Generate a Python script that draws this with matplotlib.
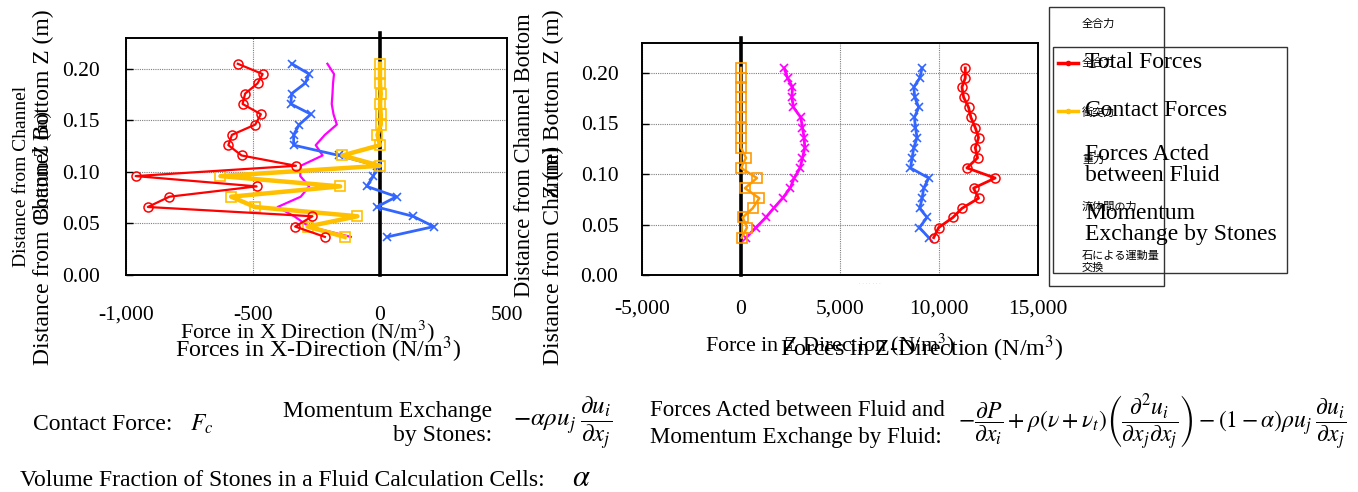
import matplotlib
matplotlib.use("Agg")
import matplotlib.pyplot as plt
from matplotlib.lines import Line2D
from matplotlib.patches import Rectangle

plt.rcParams['font.family'] = ['Liberation Serif', 'DejaVu Serif']
plt.rcParams['mathtext.fontset'] = 'stix'

# ---------------- data ----------------
heights = [0.205, 0.195, 0.186, 0.176, 0.166, 0.156, 0.146, 0.136, 0.126,
           0.116, 0.106, 0.096, 0.086, 0.076, 0.066, 0.057, 0.047, 0.037]

# X direction (N/m3)
x_total = [-560, -462, -482, -531, -541, -469, -491, -583, -597,
           -545, -331, -962, -486, -829, -914, -266, -334, -217]
x_contact = [0, 0, 0, 3, 0, 3, 3, -10, 0,
             -148, 0, -628, -157, -586, -492, -89, -285, -139]
x_fluid = [-207, -181, -185, -187, -190, -183, -170, -217, -253,
           -226, -312, -314, -279, -312, -403, -338, -279, -115]
x_stones = [-347, -279, -295, -348, -351, -272, -318, -340, -340,
            -161, -10, -26, -52, 65, -13, 130, 212, 29]

# Z direction (N/m3)
z_total = [11327, 11327, 11159, 11243, 11494, 11612, 11830, 11998, 11830,
           11948, 11410, 12837, 11746, 11998, 11159, 10706, 9984, 9732]
z_stones = [9145, 9028, 8726, 8776, 8977, 8759, 8810, 8893, 8726,
            8642, 8558, 9481, 9229, 9145, 9028, 9397, 9011, 9481]
z_fluid = [2181, 2349, 2601, 2567, 2651, 3020, 3104, 3188, 3222,
           3104, 2987, 2685, 2483, 2097, 1644, 1258, 755, 252]
z_contact = [0, 0, 0, 0, 0, 0, 0, 0, 0,
             252, 0, 805, 201, 923, 587, 84, 302, 34]

x_ticks_left = [-1000, -500, 0, 500]
x_ticklabels_left = ['-1,000', '-500', '0', '500']
x_ticks_right = [-5000, 0, 5000, 10000, 15000]
x_ticklabels_right = ['-5,000', '0', '5,000', '10,000', '15,000']
y_ticks = [0.00, 0.05, 0.10, 0.15, 0.20]
y_ticklabels = ['0.00', '0.05', '0.10', '0.15', '0.20']

legend_en = ['Total Forces', 'Contact Forces', 'Forces Acted\nbetween Fluid',
             'Momentum\nExchange by Stones']
legend_jp = ['全合力', '衝突力', '重力', '流体間の力', '石による運動量\n交換']

RED = '#FF0000'
BLUE = '#3366FF'
MAG = '#FF00FF'
GOLD = '#FFC000'
ORANGE = '#FF9900'

W, H = 1358, 492
fig = plt.figure(figsize=(W / 100, H / 100), dpi=100)


def fx(px):
    return px / W


def fy(py):
    return 1 - py / H


def style_axes(ax, xticks, xlabels, xlim, ypad, xpad):
    ax.set_xlim(*xlim)
    ax.set_ylim(0, 0.23)
    ax.set_xticks(xticks)
    ax.set_xticklabels(xlabels)
    ax.set_yticks(y_ticks)
    ax.set_yticklabels(y_ticklabels)
    ax.grid(True, linestyle=(0, (1, 1)), color='#7f7f7f', linewidth=0.8)
    ax.set_axisbelow(True)
    ax.tick_params(axis='y', direction='in', length=5, width=1, labelsize=15.5, pad=ypad)
    ax.tick_params(axis='x', direction='in', length=0, width=1, labelsize=15.5, pad=xpad)
    for s in ax.spines.values():
        s.set_linewidth(1.4)
        s.set_color('black')
    ax.axvline(0, ymin=0, ymax=1.02, color='black', linewidth=2.6, clip_on=False, zorder=1.5)


# ---------------- left axes ----------------
axL = fig.add_axes([fx(126), fy(275), fx(507 - 126), (275 - 38) / H])
axL.plot(x_fluid, heights, color=MAG, linewidth=1.6, zorder=3)
axL.plot(x_stones, heights, color=BLUE, linewidth=2.0, marker='x', markersize=6,
         markeredgewidth=1.2, zorder=3)
axL.plot(x_contact, heights, color=GOLD, linewidth=3.2, marker='s', markersize=7,
         markerfacecolor='none', markeredgewidth=1.2, zorder=4)
axL.plot(x_total, heights, color=RED, linewidth=1.6, marker='o', markersize=6.5,
         markerfacecolor='none', markeredgewidth=1.1, zorder=5)
style_axes(axL, x_ticks_left, x_ticklabels_left, (-1000, 500), 19, 22)

# ---------------- right axes ----------------
axR = fig.add_axes([fx(642), fy(275), fx(1038 - 642), (275 - 42.7) / H])
axR.plot(z_contact, heights, color=ORANGE, linewidth=1.8, marker='s', markersize=7,
         markerfacecolor='none', markeredgewidth=1.2, zorder=4)
axR.plot(z_fluid, heights, color=MAG, linewidth=2.0, marker='x', markersize=6,
         markeredgewidth=1.2, zorder=3)
axR.plot(z_stones, heights, color=BLUE, linewidth=2.0, marker='x', markersize=6,
         markeredgewidth=1.2, zorder=3)
axR.plot(z_total, heights, color=RED, linewidth=2.0, marker='o', markersize=6.5,
         markerfacecolor='none', markeredgewidth=1.1, zorder=5)
style_axes(axR, x_ticks_right, x_ticklabels_right, (-5000, 15000), 17, 18)

# ---------------- axis titles (overlapping, as in reference) ----------------
fig.text(fx(22), fy(176), 'Distance from Channel', rotation=90, fontsize=14,
         ha='center', va='center')
fig.text(fx(43), fy(165), 'Bottom Z (m)', rotation=90, fontsize=14,
         ha='center', va='center')
fig.text(fx(43), fy(187), 'Distance from Channel Bottom Z (m)', rotation=90,
         fontsize=17, ha='center', va='center')

fig.text(fx(525), fy(155), 'Distance from Channel Bottom', rotation=90, fontsize=16.3,
         ha='center', va='center')
fig.text(fx(553), fy(172), 'Z (m)', rotation=90, fontsize=16.3,
         ha='center', va='center')
fig.text(fx(553), fy(187), 'Distance from Channel Bottom Z (m)', rotation=90,
         fontsize=17, ha='center', va='center')

fig.text(fx(307), fy(332), r'Force in X Direction (N/m$^3$)', fontsize=16,
         ha='center', va='center')
fig.text(fx(318), fy(350), r'Forces in X-Direction (N/m$^3$)', fontsize=17.3,
         ha='center', va='center')
fig.text(fx(830), fy(345), r'Force in Z Direction (N/m$^3$)', fontsize=15.8,
         ha='center', va='center')
fig.text(fx(922), fy(349), r'Forces in Z-Direction (N/m$^3$)', fontsize=17.3,
         ha='center', va='center')

fig.text(fx(870), fy(284), '·  ·  ·  ·  ·  ·  ·', fontsize=3, color='#888888',
         ha='center', va='center')

# ---------------- legend boxes ----------------
fig.add_artist(Rectangle((fx(1049), fy(286)), fx(1164 - 1049), (286 - 7) / H,
                         transform=fig.transFigure, fill=False, edgecolor='#333333',
                         linewidth=1.0))
fig.add_artist(Rectangle((fx(1053), fy(273)), fx(1287 - 1053), (273 - 47) / H,
                         transform=fig.transFigure, fill=False, edgecolor='#333333',
                         linewidth=1.0))

jp_font = ['Noto Sans CJK JP', 'DejaVu Sans']
fig.text(fx(1082), fy(24), legend_jp[0], fontsize=8, family=jp_font, ha='left', va='center')
jp_y = [63, 112, 160, 207, 262]
for lbl, yy in zip(legend_jp, jp_y):
    fig.text(fx(1082), fy(yy), lbl, fontsize=8, family=jp_font, ha='left', va='center',
             linespacing=1.3)

en_y = [63, 111, 165, 224]
for lbl, yy in zip(legend_en, en_y):
    fig.text(fx(1085), fy(yy), lbl, fontsize=17, ha='left', va='center', linespacing=1.05)

for col, yy in ((RED, 63), (GOLD, 111)):
    fig.add_artist(Line2D([fx(1058), fx(1078)], [fy(yy), fy(yy)], color=col,
                          linewidth=2.5, transform=fig.transFigure))
    fig.add_artist(Line2D([fx(1068)], [fy(yy)], color=col, marker='o', markersize=3,
                          transform=fig.transFigure))

# ---------------- equations ----------------
fig.text(fx(33), fy(424), 'Contact Force:', fontsize=17, ha='left', va='center')
fig.text(fx(190), fy(424), r'$F_c$', fontsize=17, ha='left', va='center')
fig.text(fx(492), fy(411), 'Momentum Exchange', fontsize=17, ha='right', va='center')
fig.text(fx(492), fy(436), 'by Stones:', fontsize=17, ha='right', va='center')
fig.text(fx(513), fy(423), r'$-\alpha\rho u_j\;\dfrac{\partial u_i}{\partial x_j}$',
         fontsize=18, ha='left', va='center')
fig.text(fx(650), fy(411), 'Forces Acted between Fluid and', fontsize=16.5,
         ha='left', va='center')
fig.text(fx(650), fy(438), 'Momentum Exchange by Fluid:', fontsize=16.5,
         ha='left', va='center')
fig.text(fx(958), fy(423),
         r'$-\dfrac{\partial P}{\partial x_i}+\rho\left(\nu+\nu_t\right)'
         r'\left(\dfrac{\partial^2 u_i}{\partial x_j\partial x_j}\right)'
         r'-\left(1-\alpha\right)\rho u_j\;\dfrac{\partial u_i}{\partial x_j}$',
         fontsize=17, ha='left', va='center')
fig.text(fx(20), fy(480), 'Volume Fraction of Stones in a Fluid Calculation Cells:',
         fontsize=17, ha='left', va='center')
fig.text(fx(572), fy(478), r'$\alpha$', fontsize=22, ha='left', va='center')

fig.savefig('out.png', dpi=100)
